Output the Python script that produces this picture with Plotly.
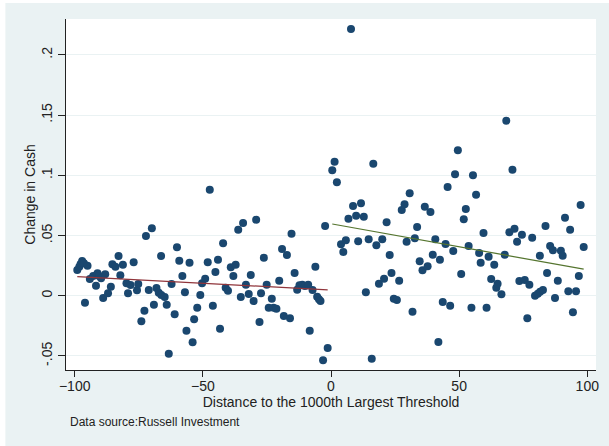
import numpy as np
import plotly.graph_objects as go

# Firms ranked below the 1000th largest threshold (negative distance)
left_dist = [-99.0, -98.2, -97.7, -97.1, -96.4, -96.0, -95.0, -94.1, -92.8, -91.7,
             -91.1, -90.5, -89.7, -88.9, -88.1, -87.0, -85.9, -85.3, -84.1, -82.9,
             -82.2, -81.2, -79.8, -79.2, -78.2, -77.0, -75.7, -75.2, -74.0, -72.8,
             -72.2, -69.9, -71.1, -69.1, -68.1, -67.2, -66.3, -66.2, -64.9, -64.1,
             -63.3, -62.2, -61.0, -60.1, -59.2, -58.0, -57.0, -56.4, -55.2, -54.0,
             -53.4, -52.2, -51.0, -50.3, -49.1, -48.1, -47.3, -46.1, -45.1, -44.1,
             -43.3, -42.1, -41.1, -40.2, -39.1, -38.1, -37.2, -36.2, -35.2, -34.3,
             -33.2, -32.1, -31.3, -30.2, -29.2, -27.9, -27.3, -26.2, -25.1, -24.3,
             -23.1, -22.4, -21.3, -20.2, -19.1, -18.4, -17.2, -16.0, -15.4, -14.2,
             -13.2, -12.3, -11.2, -10.2, -8.9, -8.3, -7.2, -6.1, -5.4, -4.7,
             -4.1, -3.1, -2.3, -1.3]
left_cash = [0.0213, 0.0241, 0.0263, 0.0288, 0.0269, -0.0058, 0.0249, 0.0139, 0.0164, 0.0083,
             0.0186, 0.0164, 0.0145, -0.0019, 0.0178, 0.0020, 0.0075, 0.0261, 0.0241, 0.0330,
             0.0169, 0.0257, 0.0103, 0.0020, 0.0089, 0.0277, 0.0045, 0.0097, -0.0213, -0.0125,
             0.0496, 0.0560, 0.0047, -0.0075, 0.0064, 0.0025, 0.0330, 0.0006, -0.0011, -0.0075,
             -0.0482, 0.0097, -0.0154, 0.0402, 0.0291, 0.0164, 0.0028, -0.0291, 0.0274, -0.0387,
             -0.0196, -0.0100, 0.0006, 0.0103, 0.0141, 0.0277, 0.0880, -0.0083, 0.0197, 0.0299,
             -0.0274, 0.0435, 0.0066, 0.0042, 0.0236, 0.0164, 0.0257, 0.0548, -0.0011, 0.0604,
             0.0091, 0.0014, 0.0172, -0.0044, 0.0631, -0.0218, 0.0020, 0.0316, 0.0091, -0.0100,
             -0.0025, -0.0100, -0.0108, 0.0125, 0.0388, -0.0169, 0.0338, -0.0188, 0.0515, 0.0189,
             0.0050, 0.0086, 0.0091, 0.0081, 0.0091, -0.0291, 0.0047, 0.0241, -0.0008, -0.0030,
             -0.0044, -0.0537, 0.0579, -0.0434]

# Firms ranked above the threshold (positive distance)
right_dist = [0.5, 1.4, 2.3, 3.9, 4.8, 5.8, 6.8, 7.8, 8.6, 9.8,
              10.6, 11.7, 12.8, 13.6, 14.7, 15.9, 16.5, 17.7, 18.7, 20.0,
              20.7, 21.7, 22.9, 23.6, 24.5, 25.7, 26.6, 27.6, 28.7, 29.5,
              30.7, 31.8, 32.7, 33.6, 34.6, 35.7, 36.6, 37.7, 38.8, 39.7,
              40.7, 41.9, 42.5, 43.6, 44.7, 45.5, 46.5, 47.7, 48.4, 49.5,
              50.8, 51.8, 52.6, 53.7, 54.8, 55.4, 56.6, 57.8, 58.4, 59.5,
              60.7, 61.5, 62.5, 63.7, 64.5, 65.0, 66.5, 67.8, 68.4, 69.6,
              70.8, 71.6, 72.6, 73.5, 74.5, 75.6, 76.6, 77.4, 78.5, 79.6,
              80.7, 81.6, 82.7, 81.5, 83.7, 84.3, 85.5, 86.6, 87.4, 88.5,
              89.7, 90.4, 91.3, 92.6, 93.3, 94.4, 95.6, 96.7, 97.4, 98.6]
right_cash = [0.1042, 0.1113, 0.0942, 0.0427, 0.0363, 0.0460, 0.0640, 0.2215, 0.0745, 0.0664,
              0.0452, 0.0767, 0.0656, 0.0028, 0.0468, -0.0523, 0.1096, 0.0419, 0.0100, 0.0468,
              0.0141, 0.0610, 0.0338, 0.0189, -0.0025, -0.0036, 0.0125, 0.0712, 0.0759, 0.0449,
              0.0850, -0.0133, 0.0477, 0.0571, 0.0286, 0.0211, 0.0739, 0.0244, 0.0695, 0.0341,
              0.0468, -0.0385, 0.0299, -0.0052, 0.0429, 0.0903, -0.0083, 0.0371, 0.1008, 0.1208,
              0.0180, 0.0635, 0.0720, 0.0413, -0.0100, 0.1000, 0.0839, 0.0355, 0.0274, 0.0521,
              -0.0100, 0.0324, 0.0139, 0.0257, 0.0066, 0.0100, 0.0012, 0.0341, 0.1453, 0.0527,
              0.1047, 0.0556, 0.0449, 0.0122, 0.0507, 0.0130, -0.0188, 0.0091, 0.0482, 0.0000,
              0.0017, 0.0033, 0.0047, 0.0332, 0.0579, 0.0189, 0.0413, 0.0377, -0.0019, 0.0125,
              0.0374, 0.0332, 0.0648, 0.0037, 0.0548, -0.0138, 0.0037, 0.0164, 0.0753, 0.0404]

x_ticks = [-100, -50, 0, 50, 100]
y_ticks = [-0.05, 0, 0.05, 0.1, 0.15, 0.2]
y_tick_text = ["-.05", "0", ".05", ".1", ".15", ".2"]

NAVY = "#1A476F"
MAROON = "#90353B"
GREEN = "#55752F"
BG = "#EAF2F3"
FONT = "Liberation Sans, Arial, sans-serif"


def linear_fit(xs, ys):
    xs = np.asarray(xs)
    slope, intercept = np.polyfit(xs, np.asarray(ys), 1)
    xl = np.array([xs.min(), xs.max()])
    return xl, intercept + slope * xl


fig = go.Figure()

all_x = left_dist + right_dist
all_y = left_cash + right_cash
fig.add_trace(go.Scatter(
    x=all_x, y=all_y, mode="markers",
    marker=dict(color=NAVY, size=8, line=dict(width=0)),
    showlegend=False,
))

lx, ly = linear_fit(left_dist, left_cash)
fig.add_trace(go.Scatter(x=lx, y=ly, mode="lines",
                         line=dict(color=MAROON, width=1.2), showlegend=False))
rx, ry = linear_fit(right_dist, right_cash)
fig.add_trace(go.Scatter(x=rx, y=ry, mode="lines",
                         line=dict(color=GREEN, width=1.2), showlegend=False))

fig.update_layout(
    width=609, height=446,
    margin=dict(l=66, r=10, t=19, b=76),
    paper_bgcolor=BG, plot_bgcolor="white",
    font=dict(family=FONT, size=14, color="#222222"),
    showlegend=False,
    xaxis=dict(
        range=[-103.4, 103.4], tickvals=x_ticks,
        ticks="outside", ticklen=6, tickcolor="#222222",
        showline=True, linecolor="#222222", linewidth=1,
        showgrid=False, zeroline=False,
        tickfont=dict(size=14), ticklabelstandoff=-3,
        title=dict(text="Distance to the 1000th Largest Threshold",
                   font=dict(size=14), standoff=0),
    ),
    yaxis=dict(
        range=[-0.0617, 0.2298], tickvals=y_ticks, ticktext=y_tick_text,
        tickangle=-90,
        ticks="outside", ticklen=7, tickcolor="#222222",
        showline=True, linecolor="#222222", linewidth=1,
        showgrid=True, gridcolor=BG, gridwidth=1, zeroline=False,
        tickfont=dict(size=14),
        title=dict(text="Change in Cash", font=dict(size=14), standoff=0),
    ),
    shapes=[
        # thin white frame strips along the top and left edges of the page
        dict(type="rect", xref="paper", yref="paper",
             x0=-0.13, x1=-0.1144, y0=-0.3, y1=1.06,
             fillcolor="white", line=dict(width=0), layer="below"),
        dict(type="rect", xref="paper", yref="paper",
             x0=-0.13, x1=1.05, y0=1.0456, y1=1.06,
             fillcolor="white", line=dict(width=0), layer="below"),
    ],
    annotations=[
        dict(text="Data source:Russell Investment", xref="paper", yref="paper",
             x=0.004, y=-0.148, xanchor="left", yanchor="middle",
             showarrow=False, font=dict(size=12, color="#222222")),
    ],
)

fig.write_html("out.html")
